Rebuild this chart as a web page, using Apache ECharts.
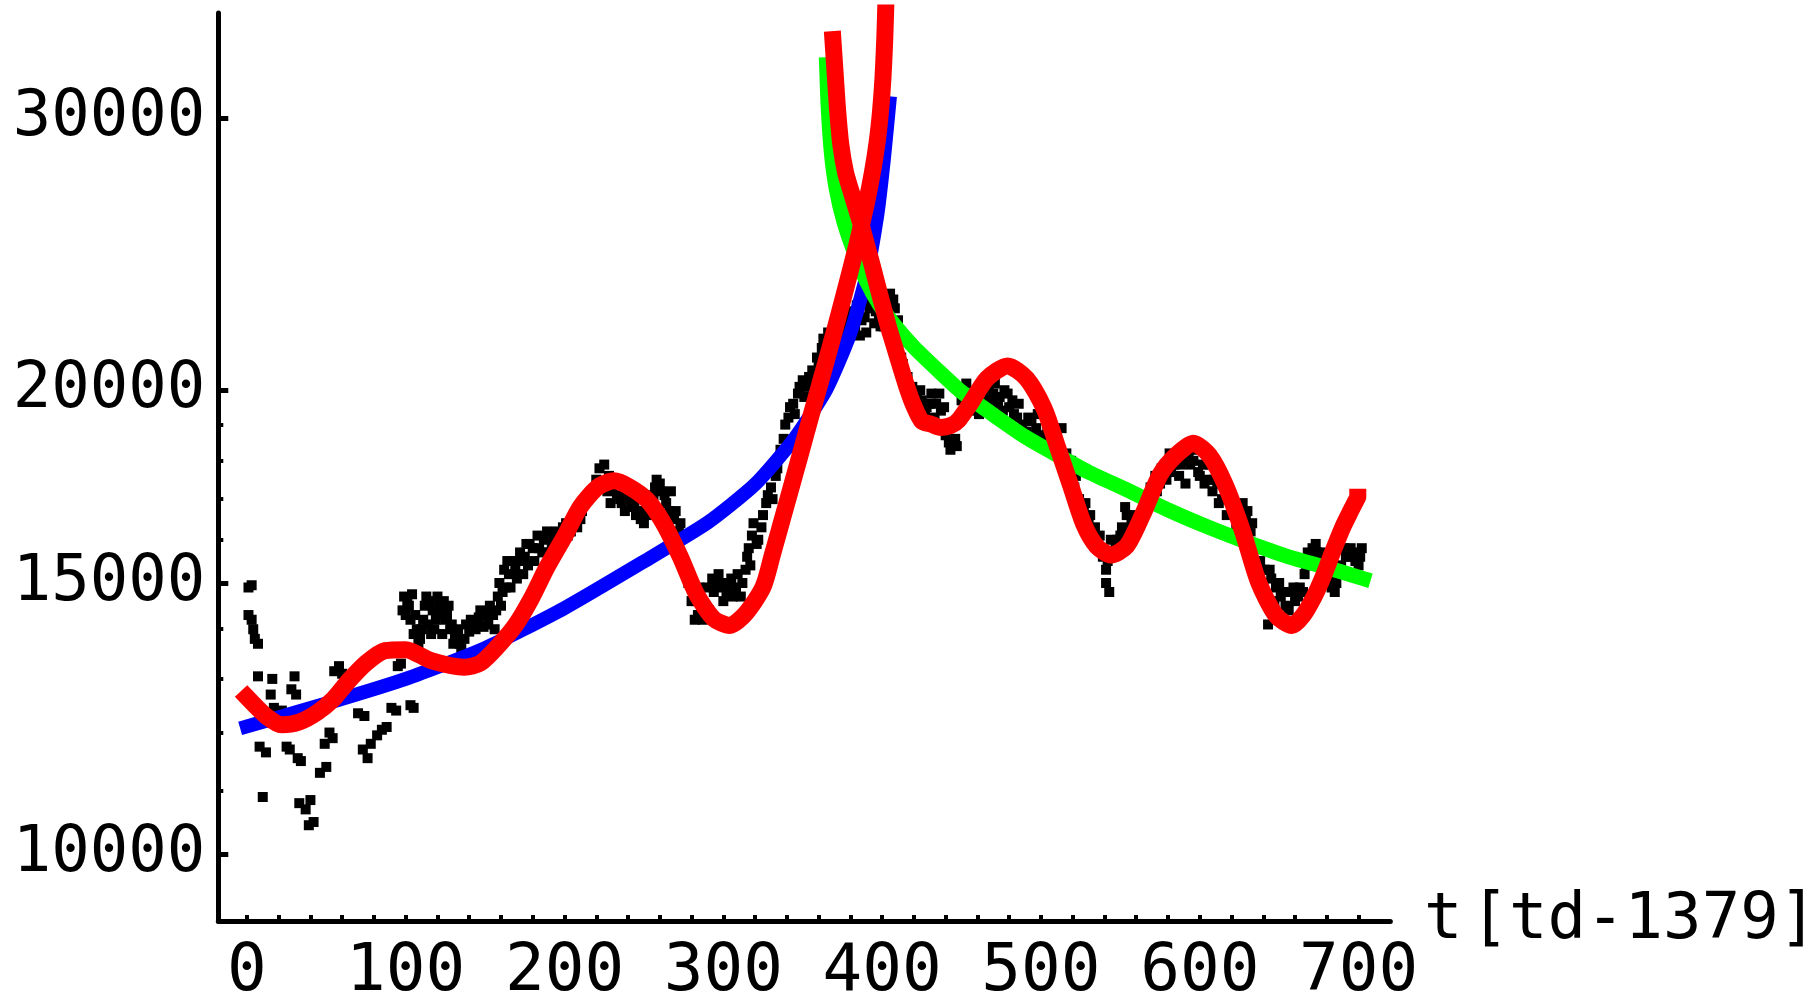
<!DOCTYPE html>
<html><head><meta charset="utf-8">
<script src="https://cdn.jsdelivr.net/npm/echarts@6/dist/echarts.min.js"></script>
<style>html,body{margin:0;padding:0;background:#fff}#c{width:1820px;height:1006px}</style>
</head><body><div id="c"></div>
<script>
// ---- axis ticks / labels ----
const xTickLabels = [0, 100, 200, 300, 400, 500, 600, 700];
const xTicks = [0,20,40,60,80,100,120,140,160,180,200,220,240,260,280,300,320,340,360,380,400,420,440,460,480,500,520,540,560,580,600,620,640,660,680,700];
const yTickLabels = [10000, 15000, 20000, 30000];
const yMinorTicks = [11000, 12000, 13000, 14000, 16000, 17000, 18000, 19000];

// ---- data: [t, value] ----
const blackData = [
[1,14900],[3,14950],[1,14300],[3,14200],[4,14000],[5,13800],[7,13700],[7,13050],[8,11750],[12,11650],[10,10900],
[15,12700],[16,13000],[17,12450],[22,12400],[25,11750],[27,11700],[28,12800],[30,13050],[31,12700],[32,11550],
[34,11500],[33,10800],[37,10700],[40,10850],[42,10500],[39,10450],[46,11300],[50,11400],[49,11800],[52,12000],
[54,11900],[55,13150],[58,13250],[60,13100],[64,12900],[67,12700],[70,12350],[74,12300],[73,11700],[76,11550],
[78,11800],[82,11950],[85,12050],[88,12100],[91,12450],[94,12400],[95,13250],[97,13300],[103,12500],[105,12450],
[99,14700],[101,14600],[100,14300],[103,14200],[105,13900],[108,13700],[110,14000],[112,14500],[115,14600],
[117,14400],[119,14200],[121,14500],[124,14600],[126,14300],[128,14000],[131,13800],[134,13700],[137,13800],
[140,13950],[143,14150],[146,14250],[149,14050],[152,14100],[155,14300],[158,14700],[160,14500],[163,14900],
[165,15200],[168,15500],[170,15100],[172,15700],[175,15600],[178,15900],[181,15500],[184,15800],[187,16000],
[190,15700],[193,16100],[196,16000],[199,16300],[202,16100],[205,16400],[208,16300],[211,16700],[214,17000],
[217,17100],[220,17500],[222,17800],[225,17900],[228,17600],[230,17300],[233,17100],[236,16900],[239,17200],
[242,16800],[245,16600],[248,16500],[251,16700],[254,16900],[257,17300],[260,17400],[263,17100],[266,16700],
[269,16500],[272,16200],[275,15500],[278,15000],[280,14600],[282,14200],[284,14300],[287,14200],[290,14900],
[293,15100],[296,14900],[299,15000],[302,14800],[305,15100],[308,14900],[311,14700],[314,15300],[316,15800],
[318,16100],[321,15900],[324,16300],[327,16900],[330,17300],[333,17600],[336,18300],[338,18600],[341,19200],
[344,19600],[347,19900],[350,20300],[353,20100],[356,20600],[359,21000],[362,21300],[365,21100],[368,21600],
[371,22000],[374,21700],[377,22200],[380,22500],[383,22000],[386,21700],[389,22300],[392,22600],[395,22100],
[398,22400],[401,22000],[404,22700],[407,22900],[410,22200],[413,20800],[416,20400],[419,20100],[422,19800],
[425,19700],[428,19500],[431,19900],[434,19600],[437,19400],[440,18700],[443,18300],[446,18600],[449,20100],
[452,19900],[455,19700],[458,19500],[461,19300],[464,19800],[467,20100],[470,19900],[473,19600],[476,19400],
[479,19900],[482,19700],[485,19200],[488,19000],[491,18800],[494,19100],[497,18900],[500,18700],[503,18500],
[506,18800],[509,18600],[512,18300],[515,18000],[518,17700],[521,17300],[524,17000],[527,16700],[530,16400],
[533,16100],[536,15900],[539,15600],[541,15000],[541,15300],[543,14800],[545,15700],[548,16000],[551,16300],
[554,16600],[557,16400],[560,16200],[563,16500],[566,16900],[569,17300],[572,17600],[575,17400],[578,17900],
[581,18200],[584,17900],[587,17600],[590,18000],[593,18200],[596,18000],[599,17700],[602,17900],[605,17500],
[608,17200],[611,17400],[614,17000],[617,16600],[620,16800],[623,16300],[626,16700],[629,16500],[632,16200],
[635,15800],[638,15500],[641,15300],[643,14100],[645,15100],[648,14900],[651,14700],[654,14500],[657,14800],
[660,14600],[663,14900],[666,15200],[668,15700],[671,15800],[674,15700],[677,15500],[680,15100],[683,14900],
[686,15000],[689,15400],[692,15600],[695,15800],[698,15500],[701,15600],
[98,14400],[102,14500],[104,14750],[106,14300],[107,14000],[109,13800],[111,14200],[113,14700],[114,14100],
[116,13900],[118,14000],[120,14700],[122,14300],[123,13900],[125,14200],[127,14500],[129,14100],[130,13700],
[132,13900],[133,14000],[135,13600],[138,14100],[141,14200],[144,14000],[147,14400],[150,14300],[153,14500],
[156,14000],[157,14400],[159,15000],[161,14800],[162,15300],[164,15500],[166,14900],[169,15300],[171,15500],
[174,15200],[176,15900],[177,15400],[180,15800],[183,16100],[186,15700],[189,16200],[192,15900],[195,16200],
[198,16000],[201,16400],[204,16200],[207,16600],[210,16500],[212,16900],[224,17400],[227,17200],[229,16900],
[232,17400],[235,17000],[238,16700],[241,17000],[244,16900],[247,16700],[250,16400],[253,16600],[256,17100],
[258,17500],[261,17200],[264,16900],[267,17200],[270,16700],[273,16400],[283,14600],[285,14900],[288,14500],
[291,14400],[294,14800],[297,15200],[300,14600],[303,15000],[306,14700],[309,15200],[312,15000],[315,15600],
[317,15400],[319,16400],[322,16000],[325,16600],[328,17100],[331,17000],[334,17800],[339,19000],[342,19500],
[345,19300],[348,20100],[351,19800],[354,20400],[357,20300],[360,20800],[363,21600],[366,21800],[369,21400],
[372,22300],[375,22600],[378,21900],[381,22100],[384,22700],[387,22200],[390,21800],[393,22900],[396,22500],
[399,22000],[402,22500],[405,23100],[408,22600],[411,21500],[412,21000],[424,20000],[427,19300],[430,19600],
[433,19200],[436,19900],[439,19500],[442,18500],[447,18400],[450,19700],[453,20200],[456,19400],[459,19800],
[462,19600],[465,20300],[468,19700],[471,20200],[474,19800],[477,20000],[480,19500],[483,19300],[486,19600],
[489,18800],[492,19200],[495,18700],[498,19300],[501,18500],[504,18900],[507,18400],[510,18700],[513,18900],
[516,18200],[519,18000],[522,17600],[528,16900],[531,16600],[534,16300],[537,16100],[540,15700],[542,15500],
[544,16000],[547,15800],[550,16100],[553,16800],[556,16100],[559,16600],[562,16400],[570,16900],[573,17200],
[576,17800],[579,17500],[582,17700],[585,18200],[588,17900],[591,17400],[594,17900],[597,18300],[600,17600],
[603,17400],[606,17900],[609,17500],[612,16900],[627,16900],[630,16700],[633,16400],[640,15000],[644,15300],
[647,14600],[650,15000],[653,14800],[656,14400],[659,14900],[662,14700],[665,14800],[667,15400],[670,15600],
[673,15900],[676,15700],[679,15400],[682,15100],[685,14800],[688,15200],[691,15800],[694,15600],[697,15700],
[700,15400],[702,15800]
];

const blueData = [
[0,12110],[50,12530],[100,13000],[150,13610],[200,14450],[250,15490],[290,16410],[320,17380],[345,18620],
[365,20040],[380,21780],[390,23710],[397,26000],[401,28180],[404.5,30690]
];

const greenData = [
[365,32510],[366,30550],[368,28510],[371,27040],[376,25700],[383,24490],[390,23550],[398,22750],[408,22030],
[420,21330],[435,20610],[450,19950],[470,19280],[490,18660],[510,18160],[530,17700],[555,17220],[580,16730],
[605,16310],[630,15940],[655,15610],[680,15350],[703,15100]
];

const redRiseData = [
[0,12650],[12,12300],[22,12140],[33,12190],[44,12360],[54,12600],[64,12960],[75,13310],[87,13560],[100,13580],
[116,13360],[137,13230],[147,13310],[158,13650],[169,14080],[179,14650],[189,15360],[200,16080],[210,16810],
[221,17310],[231,17470],[241,17310],[252,16980],[262,16420],[273,15590],[283,14760],[294,14220],[304,14080],
[314,14330],[325,14910],[331,15660],[335,16200],[341,17050],[348,18100],[356,19390],[363,20570],[370,21850],
[377,23260],[384,24830],[390,26420],[394,27730],[397,29040],[399,30340],[400.5,31840],[401.7,33880],
[402.7,36730],[403.5,39810]
];

const redFallData = [
[369,33750],[370.5,31990],[372,30340],[374,28840],[377,27670],[381,26790],[386,25760],[390,24890],[394,24040],
[398,23170],[404,21980],[408,21310],[412,20650],[416,20040],[420,19540],[425,19100],[431,19010],[437,18920],
[443,18970],[448,19120],[456,19640],[466,20350],[479,20740],[491,20350],[502,19460],[510,18430],[519,17310],
[527,16370],[535,15850],[544,15640],[554,15850],[564,16610],[575,17630],[585,18150],[596,18480],[606,18150],
[616,17370],[627,16200],[637,15020],[648,14290],[658,14080],[665,14290],[672,14700],[678,15170],[684,15740],
[690,16300],[695,16700],[699.5,17050]
];

// ---- chart ----
const FONT = "'DejaVu Sans Mono', 'Liberation Mono', monospace";
const lg = d => d.map(p => [p[0], Math.log10(p[1])]);
const Y_MIN = 3.95705, Y_MAX = 4.5455;

const chart = echarts.init(document.getElementById('c'), null, {renderer: 'canvas'});
const lineSeries = (data, color, width, z, smooth) => ({
  type: 'line', data: lg(data), showSymbol: false, symbol: 'none', smooth: smooth,
  lineStyle: {color: color, width: width, cap: 'square', join: 'round'}, z: z, clip: true, silent: true
});

chart.setOption({
  animation: false,
  backgroundColor: '#ffffff',
  grid: {left: 218.3, right: 421.5, top: 13, bottom: 75, containLabel: false},
  xAxis: {
    type: 'value', min: -18, max: 720,
    axisLine: {show: true, onZero: false, lineStyle: {color: '#000', width: 5}},
    axisTick: {show: true, inside: true, length: 6, lineStyle: {color: '#000', width: 4}, customValues: xTicks},
    axisLabel: {show: true, customValues: xTickLabels, color: '#000', fontFamily: FONT, fontSize: 66, margin: 19},
    splitLine: {show: false},
    name: '{a|t}{s| }{a|[td-1379]}',
    nameLocation: 'end', nameGap: 13,
    nameTextStyle: {
      color: '#000', verticalAlign: 'middle', align: 'left',
      rich: {a: {fontFamily: FONT, fontSize: 64, color: '#000'}, s: {fontFamily: FONT, fontSize: 13}}
    }
  },
  yAxis: [{
    type: 'value', min: Y_MIN, max: Y_MAX, position: 'left',
    axisLine: {show: true, onZero: false, lineStyle: {color: '#000', width: 5}},
    axisTick: {show: true, inside: true, length: 10, lineStyle: {color: '#000', width: 5}, customValues: yTickLabels.map(Math.log10)},
    axisLabel: {show: true, customValues: yTickLabels.map(Math.log10), color: '#000', fontFamily: FONT, fontSize: 64, margin: 13,
      padding: [0, 0, 10, 0],
      formatter: v => String(Math.round(Math.pow(10, v)))},
    splitLine: {show: false}
  }, {
    type: 'value', min: Y_MIN, max: Y_MAX, position: 'left',
    axisLine: {show: false, onZero: false},
    axisTick: {show: true, inside: true, length: 5, lineStyle: {color: '#000', width: 4}, customValues: yMinorTicks.map(Math.log10)},
    axisLabel: {show: false},
    splitLine: {show: false}
  }],
  series: [
    {type: 'scatter', data: lg(blackData), symbol: 'rect', symbolSize: 10, itemStyle: {color: '#000', opacity: 1}, z: 1, silent: true},
    lineSeries(blueData, '#0000ff', 14, 2, 0.2),
    lineSeries(greenData, '#00ff00', 15, 3, 0.2),
    lineSeries(redRiseData, '#ff0000', 17, 4, 0.25),
    lineSeries(redFallData, '#ff0000', 17, 4, 0.25)
  ]
});
</script>
</body></html>
